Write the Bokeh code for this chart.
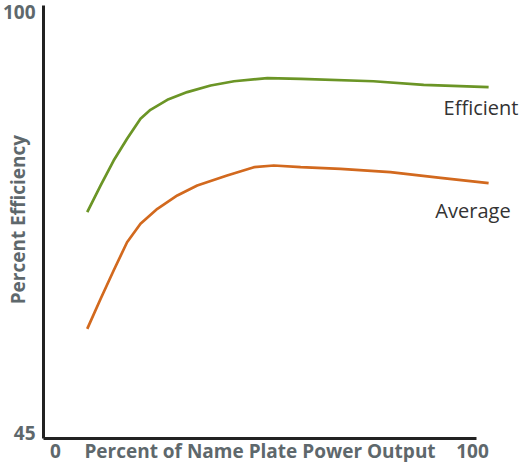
import math
from bokeh.plotting import figure
from bokeh.models import Range1d, Label, FixedTicker, LinearAxis
from bokeh.embed import file_html
from bokeh.resources import INLINE

# ---- data ----
load_efficient = [10.1, 13.2, 16.2, 19.3, 22.4, 24.7, 28.6, 33.2, 38.6, 44.0,
                  51.7, 59.4, 76.2, 87.8, 102.8]
eff_efficient = [73.75, 77.14, 80.31, 83.07, 85.61, 86.75, 88.02, 89.0, 89.84, 90.38,
                 90.77, 90.69, 90.38, 89.93, 89.62]

load_average = [10.1, 13.2, 16.2, 19.3, 22.4, 26.3, 30.9, 35.5, 42.4, 48.6,
                53.2, 59.4, 68.6, 80.1, 91.7, 102.8]
eff_average = [58.93, 62.75, 66.34, 69.93, 72.27, 74.18, 75.87, 77.14, 78.41, 79.46,
               79.68, 79.46, 79.26, 78.83, 78.11, 77.43]

series_names = ["Efficient", "Average"]
x_tick_values = [0, 100]
x_tick_labels = ["0", "100"]
y_tick_values = [45, 100]
y_tick_labels = ["45", "100"]
x_title = "Percent of Name Plate Power Output"
y_title = "Percent Efficiency"

# ---- layout ----
W, H = 520, 462
AX_X, AX_Y_BOTTOM, AX_Y_TOP = 43, 438, 5      # pixel positions of the axes
PX_PER_X = 433 / 100.0
PX_PER_Y = (AX_Y_BOTTOM - AX_Y_TOP) / 55.0
x0 = -AX_X / PX_PER_X
x1 = (W - AX_X) / PX_PER_X
y0 = 45 - (H - AX_Y_BOTTOM) / PX_PER_Y
y1 = 100 + AX_Y_TOP / PX_PER_Y

GREEN = "#6b9526"
ORANGE = "#d2691e"
GRAY = "#5e686c"
DARK = "#333333"
FONT = "Open Sans"
BOLD_SIZE = "19px"

p = figure(width=W, height=H, output_backend="svg", toolbar_location=None,
           x_range=Range1d(x0, x1), y_range=Range1d(y0, y1),
           x_axis_type=None, y_axis_type=None,
           min_border=0, min_border_left=0, min_border_right=0,
           min_border_top=0, min_border_bottom=0)
p.outline_line_color = None
p.background_fill_color = "white"
p.border_fill_color = "white"


def make_axis(bounds, loc):
    ax = LinearAxis(ticker=FixedTicker(ticks=[]), bounds=bounds, fixed_location=loc)
    ax.axis_line_color = "#222222"
    ax.axis_line_width = 3
    ax.major_tick_line_color = None
    ax.minor_tick_line_color = None
    ax.major_tick_out = 0
    ax.minor_tick_out = 0
    ax.major_tick_in = 0
    ax.major_label_standoff = 0
    ax.major_label_text_font_size = "0px"
    return ax


p.add_layout(make_axis((x_tick_values[0], x_tick_values[-1]), y_tick_values[0]), "below")
p.add_layout(make_axis((y_tick_values[0], y_tick_values[-1]), x_tick_values[0]), "left")

p.line(load_efficient, eff_efficient, line_color=GREEN, line_width=2.7, line_join="round")
p.line(load_average, eff_average, line_color=ORANGE, line_width=2.7, line_join="round")

# tick labels
x_offsets = [12, -4]
for v, t, xo in zip(x_tick_values, x_tick_labels, x_offsets):
    p.add_layout(Label(x=v, y=y_tick_values[0], x_offset=xo, y_offset=-12, text=t,
                       text_align="center", text_baseline="middle",
                       text_font=FONT, text_font_style="bold",
                       text_font_size=BOLD_SIZE, text_color=GRAY))
y_offsets = [6, 1]
y_baselines = ["middle", "top"]
for v, t, yo, bl in zip(y_tick_values, y_tick_labels, y_offsets, y_baselines):
    p.add_layout(Label(x=x_tick_values[0], y=v, x_offset=-8, y_offset=yo, text=t,
                       text_align="right", text_baseline=bl,
                       text_font=FONT, text_font_style="bold",
                       text_font_size=BOLD_SIZE, text_color=GRAY))

# axis titles
p.add_layout(Label(x=50, y=y_tick_values[0], y_offset=-12, text=x_title,
                   text_align="center", text_baseline="middle",
                   text_font=FONT, text_font_style="bold",
                   text_font_size=BOLD_SIZE, text_color=GRAY))
p.add_layout(Label(x=x_tick_values[0], y=72.8, x_offset=-26, text=y_title, angle=math.pi / 2,
                   text_align="center", text_baseline="middle",
                   text_font=FONT, text_font_style="bold",
                   text_font_size=BOLD_SIZE, text_color=GRAY))

# series labels
label_pos = [(92.4, 87.06), (90.5, 74.0)]
for name, (lx, ly) in zip(series_names, label_pos):
    p.add_layout(Label(x=lx, y=ly, text=name, text_align="left",
                       text_baseline="middle", text_font=FONT,
                       text_font_size="20px", text_color=DARK))

open("out.html", "w").write(file_html(p, INLINE))
